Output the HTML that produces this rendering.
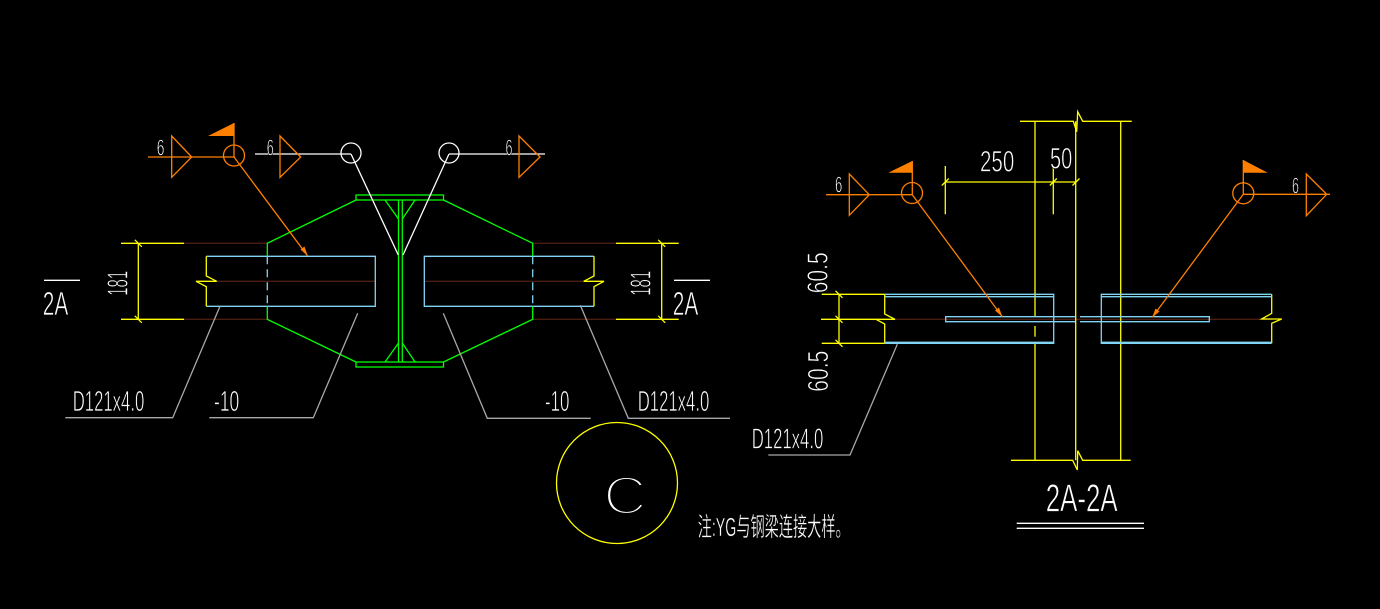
<!DOCTYPE html>
<html><head><meta charset="utf-8"><style>
html,body{margin:0;padding:0;background:#000;}
svg{display:block;}
text{font-family:"Liberation Sans","Noto Sans CJK SC",sans-serif;fill:#fff;stroke:#000;stroke-width:0.7px;}
</style></head><body>
<svg width="1380" height="609" viewBox="0 0 1380 609" xmlns="http://www.w3.org/2000/svg">
<rect width="1380" height="609" fill="#000"/>
<g fill="none" stroke-width="1.3">

<!-- ===== LEFT DRAWING ===== -->
<g stroke="#4a1c12">
<line x1="184" y1="243.3" x2="267.3" y2="243.3"/>
<line x1="184" y1="319.3" x2="267.3" y2="319.3"/>
<line x1="532.7" y1="243.3" x2="616" y2="243.3"/>
<line x1="532.7" y1="319.3" x2="616" y2="319.3"/>
<line x1="216.7" y1="281.3" x2="375.3" y2="281.3"/>
<line x1="424.3" y1="281.3" x2="583.7" y2="281.3"/>
</g>
<g stroke="#80d4f4">
<polyline points="206.3,256.3 375.3,256.3 375.3,306.3 206.3,306.3"/>
<polyline points="594,256.3 424.3,256.3 424.3,306.3 594,306.3"/>
<line x1="267.3" y1="256.3" x2="267.3" y2="306.3" stroke-dasharray="8,5"/>
<line x1="532.7" y1="256.3" x2="532.7" y2="306.3" stroke-dasharray="8,5"/>
</g>
<g stroke="#ffff00">
<polyline points="206.3,256.3 206.3,276 216.7,281.3 196,281.3 206.3,286.7 206.3,306.3"/>
<polyline points="594,256.3 594,276 583.7,281.3 604,281.3 594,286.7 594,306.3"/>
<line x1="121" y1="243.3" x2="184" y2="243.3"/>
<line x1="121" y1="319.3" x2="184" y2="319.3"/>
<line x1="138.3" y1="243.3" x2="138.3" y2="319.3"/>
<line x1="134.8" y1="239.8" x2="141.8" y2="246.8"/>
<line x1="134.8" y1="315.8" x2="141.8" y2="322.8"/>
<line x1="616" y1="243.3" x2="678.7" y2="243.3"/>
<line x1="616" y1="319.3" x2="678.7" y2="319.3"/>
<line x1="661.7" y1="243.3" x2="661.7" y2="319.3"/>
<line x1="658.2" y1="239.8" x2="665.2" y2="246.8"/>
<line x1="658.2" y1="315.8" x2="665.2" y2="322.8"/>
</g>
<g stroke="#00ff00">
<rect x="356" y="195" width="87.5" height="5"/>
<rect x="356" y="362" width="87.5" height="5"/>
<line x1="398.5" y1="200" x2="398.5" y2="362"/>
<line x1="402.3" y1="200" x2="402.3" y2="362"/>
<line x1="385" y1="200" x2="398.5" y2="219"/>
<line x1="415" y1="200" x2="402.3" y2="219"/>
<line x1="385" y1="362" x2="398.5" y2="343"/>
<line x1="415" y1="362" x2="402.3" y2="343"/>
<polyline points="356,200 267.3,243.3 267.3,256.3"/>
<polyline points="267.3,306.3 267.3,319.3 356,362"/>
<polyline points="443.5,200 532.7,243.3 532.7,256.3"/>
<polyline points="532.7,306.3 532.7,319.3 443.5,362"/>
</g>
<g stroke="#a8a8a8">
<polyline points="220,306.3 172.7,417.7 65.3,417.7"/>
<polyline points="357.7,313.3 313.3,417.7 209.3,417.7"/>
<polyline points="443.3,313.3 487.3,418.3 590.7,418.3"/>
<polyline points="580.3,305.3 628.3,418.3 730,418.3"/>
</g>
<g stroke="#ff8000">
<line x1="148" y1="157" x2="234" y2="157"/>
<polygon points="171.7,136 191.7,157 171.7,177.3"/>
<line x1="234" y1="123" x2="234" y2="157"/>
<circle cx="234" cy="155.5" r="10.5"/>
<line x1="234" y1="157" x2="307.7" y2="256"/>
</g>
<polygon points="234,123 234,136 208,136" fill="#ff8000"/>
<polygon points="307.7,256 300.5,249.5 304.5,246.5" fill="#ff8000"/>
<g stroke="#ffffff">
<line x1="255" y1="154" x2="351" y2="154"/>
<circle cx="351" cy="153" r="10"/>
<line x1="351" y1="154" x2="398.3" y2="255"/>
<line x1="449" y1="154" x2="545" y2="154"/>
<circle cx="449" cy="153" r="10"/>
<line x1="449" y1="154" x2="403" y2="255"/>
</g>
<g stroke="#ff8000">
<polygon points="280,136 300.7,157 280,177.3"/>
<polygon points="519,136 540,157 519,177.3"/>
</g>
<circle cx="617" cy="483" r="60.5" stroke="#ffff00"/>

<!-- ===== RIGHT DRAWING ===== -->
<g stroke="#4a1c12">
<line x1="895" y1="319.3" x2="1271.7" y2="319.3"/>
</g>
<g stroke="#ffff00">
<polyline points="1020,121.3 1073.3,121.3 1076.7,131.7 1077.7,111.7 1082.7,121.3 1131.7,121.3"/>
<polyline points="1011,460.3 1072.7,460.3 1077.3,470 1077.7,450.7 1082.7,460.3 1130.7,460.3"/>
<line x1="1035" y1="121.3" x2="1035" y2="316.7"/>
<line x1="1035" y1="326" x2="1035" y2="336.7"/>
<line x1="1035" y1="343.3" x2="1035" y2="460.3"/>
<line x1="1075.7" y1="121.3" x2="1075.7" y2="460.3"/>
<line x1="1120.7" y1="121.3" x2="1120.7" y2="460.3"/>
<line x1="945.3" y1="182" x2="1076" y2="182"/>
<line x1="945.3" y1="166" x2="945.3" y2="214.3"/>
<line x1="1053.3" y1="166.7" x2="1053.3" y2="214.3"/>
<line x1="941.8" y1="185.5" x2="948.8" y2="178.5"/>
<line x1="1049.8" y1="185.5" x2="1056.8" y2="178.5"/>
<line x1="1072.5" y1="185.5" x2="1079.5" y2="178.5"/>
<line x1="821.7" y1="294.3" x2="884.7" y2="294.3"/>
<line x1="821" y1="319.3" x2="876" y2="319.3"/>
<line x1="821.7" y1="343.3" x2="884.7" y2="343.3"/>
<line x1="839" y1="294.3" x2="839" y2="343.3"/>
<line x1="835.5" y1="290.8" x2="842.5" y2="297.8"/>
<line x1="835.5" y1="315.8" x2="842.5" y2="322.8"/>
<line x1="835.5" y1="339.8" x2="842.5" y2="346.8"/>
<polyline points="884.7,294.3 884.7,314 895,319.3 876,319.3 884.7,324 884.7,343.3"/>
<polyline points="1271.7,294.3 1271.7,313.3 1261.7,319 1281.7,319 1271.7,323.3 1271.7,343.3"/>
</g>
<g stroke="#80d4f4">
<polyline points="884.7,294.3 1053.7,294.3 1053.7,343.3 884.7,343.3"/>
<line x1="884.7" y1="296.7" x2="1053.7" y2="296.7"/>
<line x1="884.7" y1="342.3" x2="1053.7" y2="342.3"/>
<polyline points="1271.7,294.3 1101.3,294.3 1101.3,343.3 1271.7,343.3"/>
<line x1="1101.3" y1="296.7" x2="1271.7" y2="296.7"/>
<line x1="1101.3" y1="342.3" x2="1271.7" y2="342.3"/>
<polyline points="1075,316.7 945.7,316.7 945.7,321.7 1075,321.7"/>
<polyline points="1080,316.7 1209.3,316.7 1209.3,321.7 1080,321.7"/>
</g>
<polyline points="897.3,344.3 850,455 768.3,455" stroke="#a8a8a8"/>
<g stroke="#ff8000">
<line x1="826" y1="194.7" x2="912.3" y2="194.7"/>
<polygon points="849.3,174 869.3,194.7 849.3,215.3"/>
<line x1="912.3" y1="161" x2="912.3" y2="194.7"/>
<circle cx="912" cy="193" r="10.5"/>
<line x1="912.3" y1="194.7" x2="1002.3" y2="316.7"/>
<line x1="1243.3" y1="194.3" x2="1330" y2="194.3"/>
<polygon points="1306.3,174 1326.7,194.3 1306.3,215.7"/>
<line x1="1243.3" y1="160" x2="1243.3" y2="194.3"/>
<circle cx="1243.3" cy="193.3" r="10.5"/>
<line x1="1243.3" y1="194.3" x2="1152.3" y2="317.3"/>
</g>
<polygon points="912.3,161 912.3,172.7 888.3,172.7" fill="#ff8000"/>
<polygon points="1243.3,160 1243.3,172.7 1267.7,172.7" fill="#ff8000"/>
<polygon points="1002.3,316.7 995,310.5 999,307.5" fill="#ff8000"/>
<polygon points="1152.3,317.3 1155.5,308.5 1159.5,311.5" fill="#ff8000"/>
<line x1="1016.7" y1="523.3" x2="1144" y2="523.3" stroke="#fff"/>
<line x1="1016.7" y1="528.3" x2="1144" y2="528.3" stroke="#fff"/>
<line x1="44" y1="280.3" x2="80" y2="280.3" stroke="#fff"/>
<line x1="674" y1="280.3" x2="710" y2="280.3" stroke="#fff"/>
</g>

<!-- ===== TEXT ===== -->
<g font-size="29">
<text x="156.7" y="155.7" font-size="23" textLength="7.7" lengthAdjust="spacingAndGlyphs">6</text>
<text x="266.7" y="155.7" font-size="23" textLength="7" lengthAdjust="spacingAndGlyphs">6</text>
<text x="505.5" y="155.7" font-size="23" textLength="7" lengthAdjust="spacingAndGlyphs">6</text>
<text x="835" y="192.7" font-size="23" textLength="7.3" lengthAdjust="spacingAndGlyphs">6</text>
<text x="1292" y="193.3" font-size="23" textLength="7" lengthAdjust="spacingAndGlyphs">6</text>

<text x="42.7" y="315" font-size="33" textLength="25.6" lengthAdjust="spacingAndGlyphs">2A</text>
<text x="672.7" y="315" font-size="33" textLength="25.6" lengthAdjust="spacingAndGlyphs">2A</text>

<text transform="translate(127.3,283.3) rotate(-90)" text-anchor="middle" textLength="25" lengthAdjust="spacingAndGlyphs">181</text>
<text transform="translate(650.7,283.3) rotate(-90)" text-anchor="middle" textLength="25" lengthAdjust="spacingAndGlyphs">181</text>

<g style="fill:#b4b4b4">
<text x="72.7" y="411" textLength="71.6" lengthAdjust="spacingAndGlyphs">D121x4.0</text>
<text x="214" y="411" textLength="25.3" lengthAdjust="spacingAndGlyphs">-10</text>
<text x="545" y="411" textLength="24.3" lengthAdjust="spacingAndGlyphs">-10</text>
<text x="637.7" y="411" textLength="71.6" lengthAdjust="spacingAndGlyphs">D121x4.0</text>
<text x="751.7" y="448.3" textLength="71.6" lengthAdjust="spacingAndGlyphs">D121x4.0</text>
</g>

<text x="980" y="171.7" font-size="30" textLength="34.3" lengthAdjust="spacingAndGlyphs">250</text>
<text x="1050" y="168.3" font-size="30" textLength="22.3" lengthAdjust="spacingAndGlyphs">50</text>

<text transform="translate(827.3,272.8) rotate(-90)" text-anchor="middle" textLength="41" lengthAdjust="spacingAndGlyphs">60.5</text>
<text transform="translate(827.8,371.2) rotate(-90)" text-anchor="middle" textLength="41" lengthAdjust="spacingAndGlyphs">60.5</text>

<text x="1045.7" y="511.7" font-size="39" textLength="72" lengthAdjust="spacingAndGlyphs">2A-2A</text>

<text x="603.3" y="514" font-size="54" textLength="43.4" lengthAdjust="spacingAndGlyphs" style="stroke-width:3.2px">C</text>

<text x="697.7" y="536" font-size="26" textLength="152" lengthAdjust="spacingAndGlyphs" style="stroke-width:0.4px">注:YG与钢梁连接大样。</text>
</g>
</svg>
</body></html>
